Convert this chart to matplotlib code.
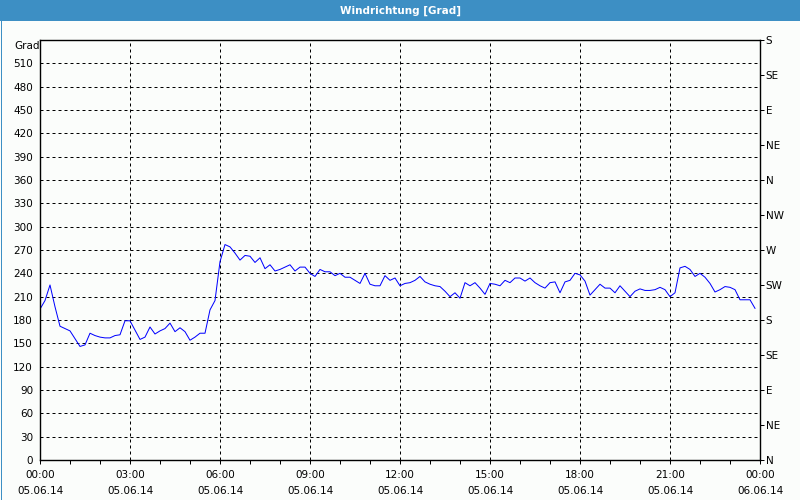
import numpy as np
import matplotlib
matplotlib.use("Agg")
import matplotlib.pyplot as plt
from matplotlib.patches import Rectangle

# wind direction in degrees, one value every 10 minutes (00:00 .. 23:50)
richtung = [194, 205, 225, 197, 172, 169, 166, 156, 146, 148,
            163, 160, 158, 157, 157, 160, 161, 179, 179, 167,
            155, 158, 171, 162, 166, 169, 176, 165, 170, 165,
            154, 158, 163, 163, 193, 205, 255, 277, 274, 266,
            257, 263, 262, 254, 260, 246, 251, 243, 245, 248,
            251, 243, 248, 248, 240, 236, 245, 242, 242, 237,
            240, 235, 235, 231, 227, 240, 226, 224, 224, 237,
            231, 234, 224, 227, 228, 231, 236, 229, 226, 224,
            223, 217, 210, 215, 208, 228, 224, 228, 221, 213,
            227, 226, 224, 231, 228, 234, 234, 230, 234, 228,
            224, 221, 228, 229, 215, 229, 231, 240, 238, 230,
            212, 219, 226, 221, 221, 215, 224, 217, 210, 217,
            220, 218, 218, 219, 222, 219, 210, 215, 247, 249,
            245, 236, 240, 235, 227, 216, 219, 223, 222, 219,
            206, 206, 206, 195]
stunden = np.arange(len(richtung)) / 6.0

x_ticks = [0, 3, 6, 9, 12, 15, 18, 21, 24]
x_labels = ["00:00\n05.06.14", "03:00\n05.06.14", "06:00\n05.06.14",
            "09:00\n05.06.14", "12:00\n05.06.14", "15:00\n05.06.14",
            "18:00\n05.06.14", "21:00\n05.06.14", "00:00\n06.06.14"]
y_ticks = list(range(0, 540, 30))
himmel = ["N", "NE", "E", "SE", "S", "SW", "W", "NW", "N", "NE", "E", "SE", "S"]

bg = "#fbfdfb"
blau = "#3d8fc4"
px = 0.72  # one pixel in points at dpi 100

fig = plt.figure(figsize=(8, 5), dpi=100, facecolor=bg)

# title bar and window border
fig.patches.append(Rectangle((0, 1 - 21 / 500), 1, 21 / 500, transform=fig.transFigure,
                             facecolor=blau, edgecolor="none", zorder=0))
fig.patches.append(Rectangle((0.5 / 800, 0.5 / 500), 799 / 800, 499 / 500, transform=fig.transFigure,
                             facecolor="none", edgecolor=blau, linewidth=px, zorder=0))
fig.text(0.5, 1 - 10.5 / 500, "Windrichtung [Grad]", color="white", fontsize=7.5,
         fontweight="bold", ha="center", va="center")

ax = fig.add_axes([40 / 800, 40 / 500, 720 / 800, 420 / 500])
ax.set_facecolor(bg)
ax.plot(stunden, richtung, color="#0000ff", linewidth=px)

ax.set_xlim(0, 24)
ax.set_ylim(0, 540)
ax.set_xticks(x_ticks)
ax.set_xticklabels(x_labels, fontsize=7.5, linespacing=1.75)
ax.set_xticks(range(0, 25), minor=True)
ax.set_yticks(y_ticks)
ax.set_yticklabels([str(v) for v in y_ticks], fontsize=7.5)
ax.tick_params(axis="x", which="both", direction="out", length=3, width=px, pad=4)
ax.tick_params(axis="y", length=0, pad=5)
ax.grid(True, color="black", linestyle=(0, (3, 3)), linewidth=px)
for s in ax.spines.values():
    s.set_linewidth(px * 1.4)
ax.text(-5 / 720, 540 - 6 / 420 * 540, "Grad", transform=ax.transData + matplotlib.transforms.ScaledTranslation(0, 0, fig.dpi_scale_trans),
        fontsize=7.5, ha="right", va="center", clip_on=False)

ax2 = ax.twinx()
ax2.set_ylim(0, 540)
ax2.set_yticks(range(0, 541, 45))
ax2.set_yticklabels(himmel, fontsize=7.5)
ax2.tick_params(axis="y", direction="out", length=3, width=px, pad=1)
for s in ax2.spines.values():
    s.set_visible(False)

fig.savefig("out.png", dpi=100, facecolor=bg)
